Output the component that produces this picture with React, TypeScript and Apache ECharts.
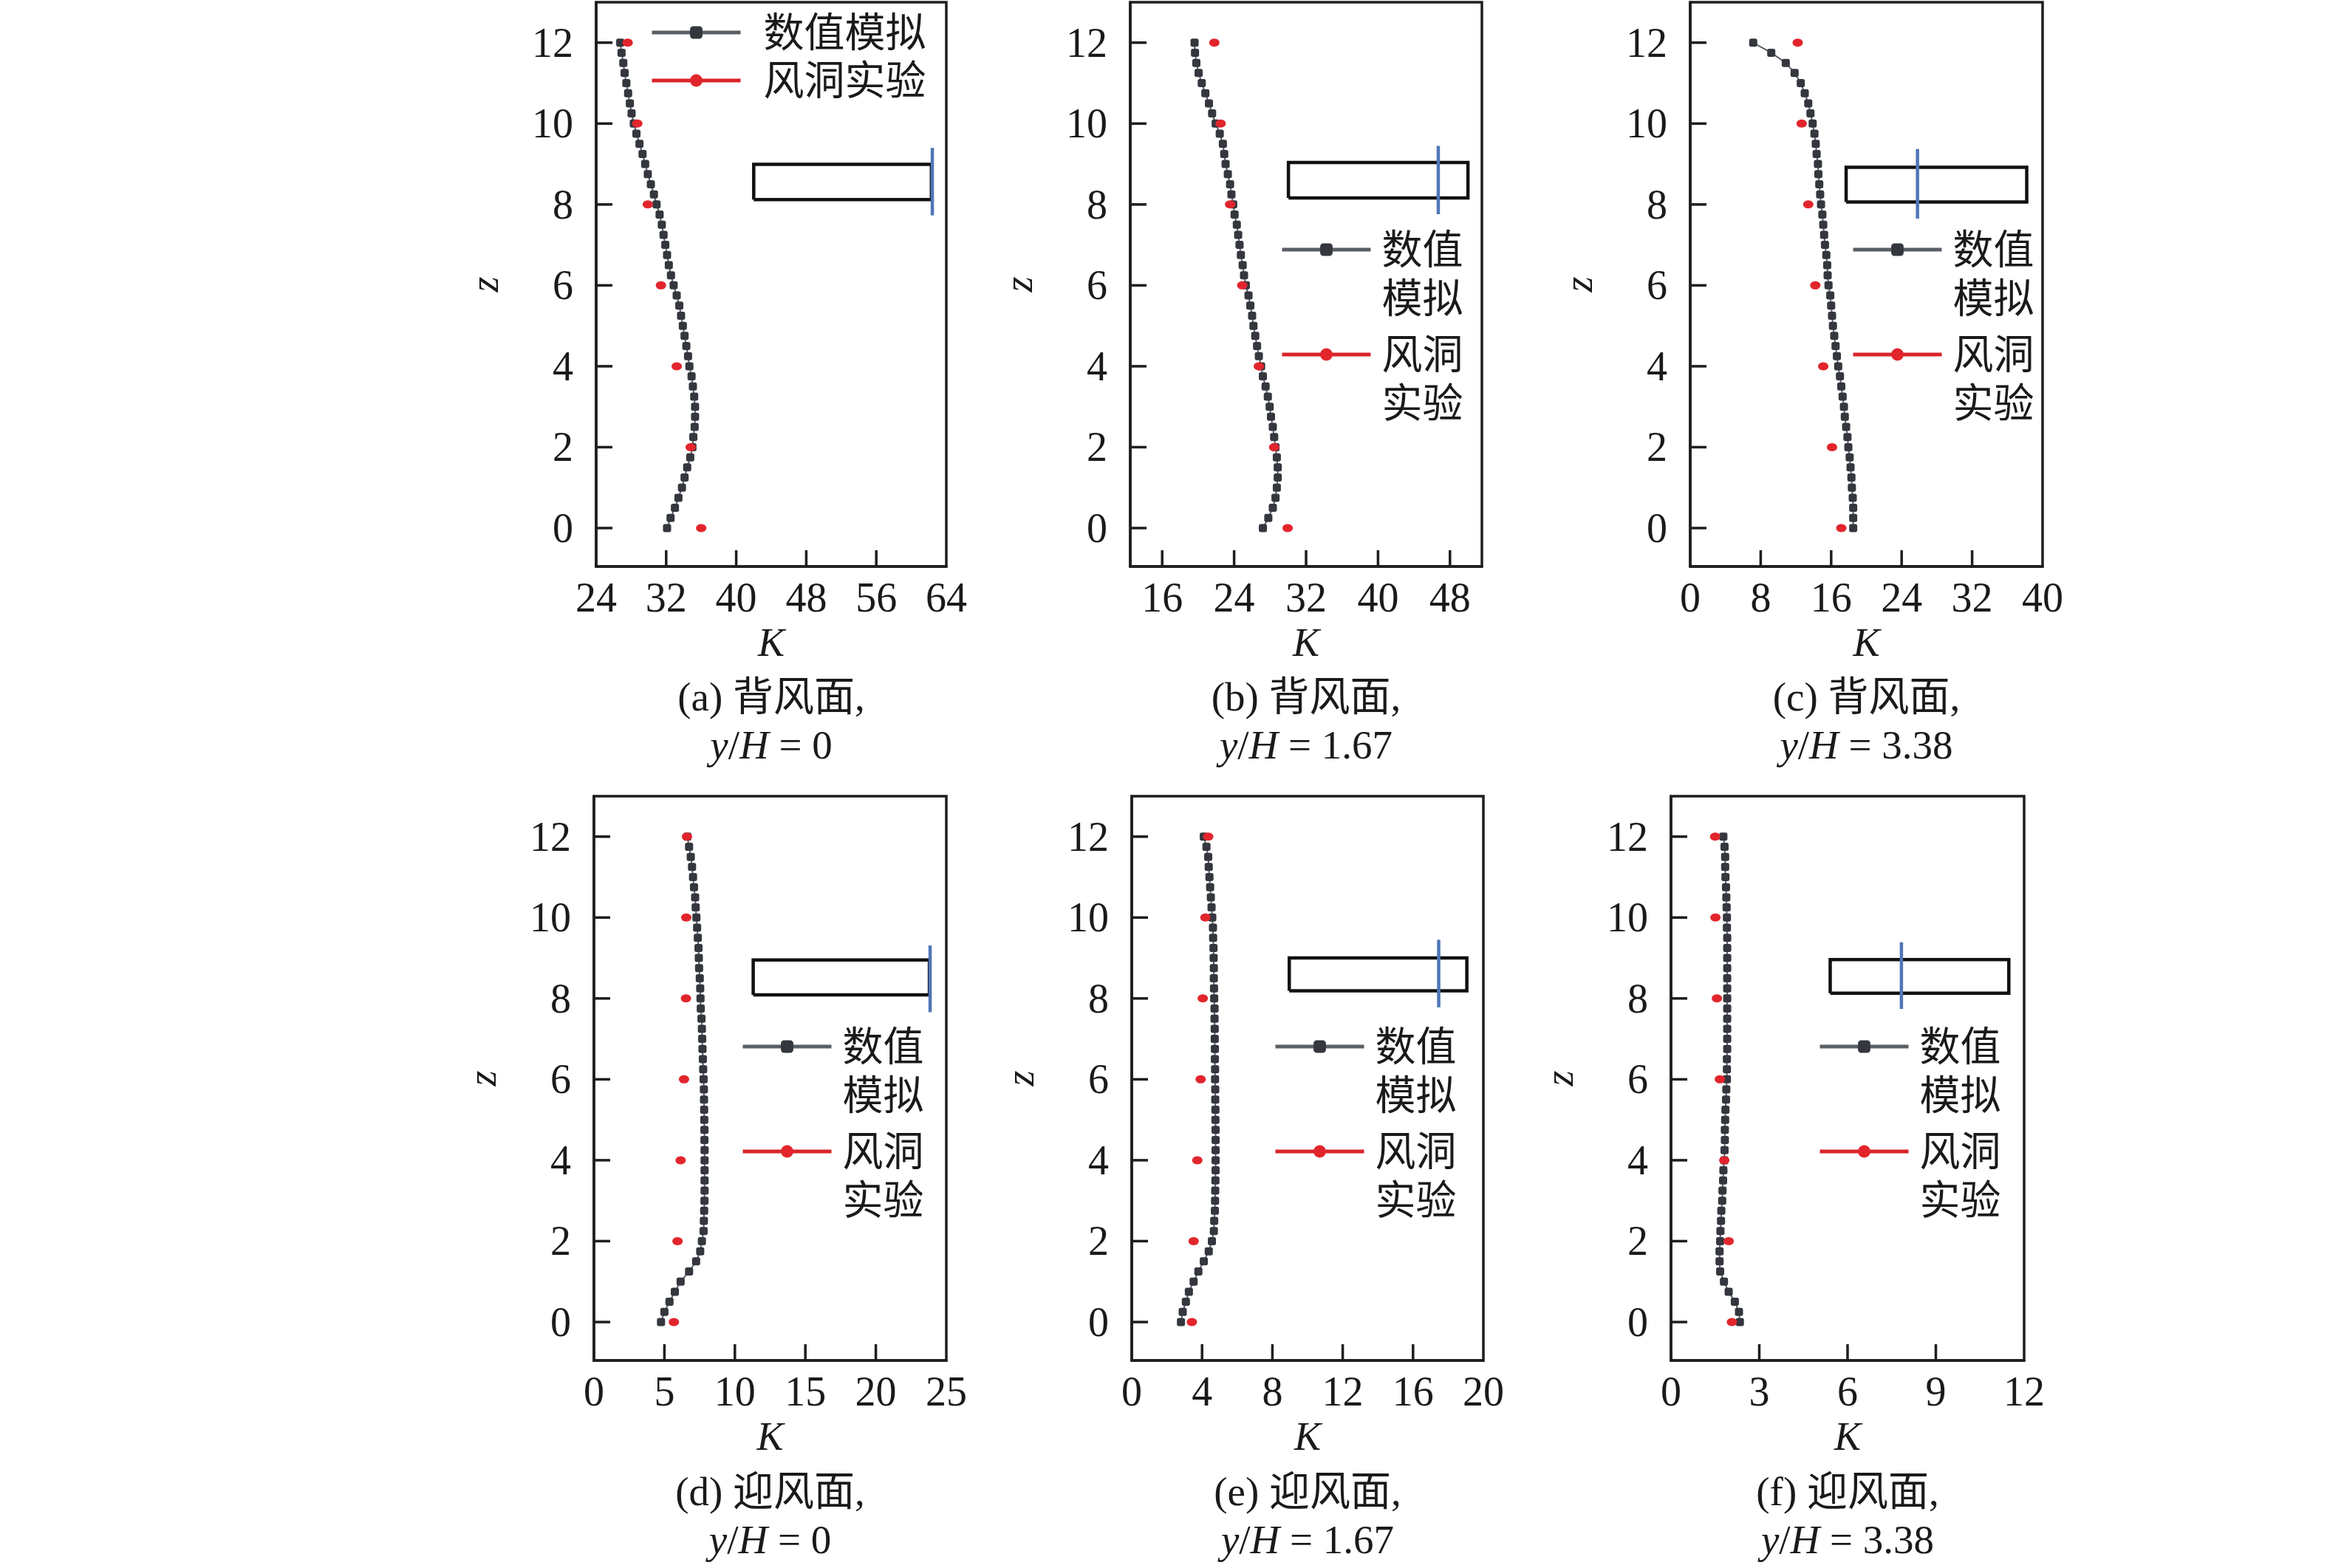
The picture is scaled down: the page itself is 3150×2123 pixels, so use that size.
import React, { useEffect, useRef } from "react";
import * as echarts from "echarts";

// ---------- data ----------
const Z_NUM = [
  0, 0.25, 0.5, 0.75, 1, 1.25, 1.5, 1.75, 2, 2.25, 2.5, 2.75, 3, 3.25, 3.5, 3.75,
  4, 4.25, 4.5, 4.75, 5, 5.25, 5.5, 5.75, 6, 6.25, 6.5, 6.75, 7, 7.25, 7.5, 7.75,
  8, 8.25, 8.5, 8.75, 9, 9.25, 9.5, 9.75, 10, 10.25, 10.5, 10.75, 11, 11.25, 11.5, 11.75, 12,
];
const Z_EXP = [0, 2, 4, 6, 8, 10, 12];

const K_NUM_A = [
  32.1, 32.5, 33.0, 33.4, 33.8, 34.1, 34.4, 34.75,
  35.0, 35.1, 35.25, 35.3, 35.3, 35.2, 35.05, 34.9,
  34.65, 34.5, 34.3, 34.1, 33.9, 33.7, 33.5, 33.2,
  32.85, 32.55, 32.3, 32.1, 31.9, 31.7, 31.5, 31.25,
  30.9, 30.6, 30.25, 29.9, 29.6, 29.3, 28.95, 28.6,
  28.3, 28.05, 27.85, 27.65, 27.45, 27.25, 27.1, 26.9,
  26.75,
];
const K_EXP_A = [36.0, 34.8, 33.2, 31.4, 29.9, 28.7, 27.6];

const K_NUM_B = [
  27.2, 27.8, 28.3, 28.6, 28.75, 28.85, 28.85, 28.75,
  28.6, 28.45, 28.3, 28.1, 27.95, 27.75, 27.5, 27.2,
  27.0, 26.75, 26.55, 26.35, 26.15, 26.0, 25.8, 25.6,
  25.3, 25.1, 24.95, 24.75, 24.6, 24.45, 24.3, 24.05,
  23.9, 23.7, 23.55, 23.3, 23.05, 22.9, 22.75, 22.4,
  21.95, 21.55, 21.2, 20.8, 20.4, 20.05, 19.8, 19.65,
  19.6,
];
const K_EXP_B = [29.95, 28.45, 26.75, 24.9, 23.55, 22.5, 21.8];

const K_NUM_C = [
  18.5, 18.5, 18.5, 18.45, 18.35, 18.3, 18.2, 18.1,
  17.95, 17.85, 17.7, 17.55, 17.45, 17.3, 17.15, 17.0,
  16.8, 16.65, 16.5, 16.35, 16.2, 16.1, 16.0, 15.9,
  15.7, 15.6, 15.55, 15.45, 15.3, 15.2, 15.1, 15.0,
  14.85, 14.75, 14.65, 14.55, 14.5, 14.35, 14.25, 14.1,
  13.9, 13.65, 13.4, 13.0, 12.55, 11.85, 10.85, 9.2,
  7.15,
];
const K_EXP_C = [17.15, 16.1, 15.1, 14.2, 13.4, 12.65, 12.2];

const K_NUM_D = [
  4.76, 5.0, 5.36, 5.74, 6.15, 6.75, 7.25, 7.54,
  7.66, 7.78, 7.8, 7.82, 7.84, 7.85, 7.85, 7.85,
  7.85, 7.85, 7.84, 7.84, 7.83, 7.82, 7.81, 7.8,
  7.78, 7.75, 7.73, 7.7, 7.68, 7.66, 7.63, 7.58,
  7.56, 7.54, 7.51, 7.46, 7.44, 7.42, 7.37, 7.32,
  7.27, 7.22, 7.18, 7.1, 7.03, 6.96, 6.87, 6.75,
  6.63,
];
const K_EXP_D = [5.67, 5.93, 6.15, 6.39, 6.53, 6.55, 6.6];

const K_NUM_E = [
  2.8, 2.9, 3.08, 3.25, 3.52, 3.79, 4.1, 4.38,
  4.56, 4.67, 4.69, 4.73, 4.74, 4.75, 4.76, 4.77,
  4.77, 4.77, 4.77, 4.77, 4.76, 4.76, 4.75, 4.75,
  4.74, 4.74, 4.73, 4.73, 4.72, 4.72, 4.71, 4.71,
  4.69, 4.68, 4.67, 4.67, 4.66, 4.65, 4.63, 4.62,
  4.58, 4.54, 4.5, 4.46, 4.42, 4.38, 4.35, 4.25,
  4.1,
];
const K_EXP_E = [3.42, 3.52, 3.73, 3.92, 4.04, 4.19, 4.35];

const K_NUM_F = [
  2.34, 2.31, 2.17, 1.96, 1.8, 1.67, 1.65, 1.65,
  1.67, 1.68, 1.7, 1.71, 1.74, 1.75, 1.77, 1.78,
  1.81, 1.82, 1.83, 1.83, 1.84, 1.85, 1.87, 1.88,
  1.9, 1.9, 1.9, 1.91, 1.91, 1.91, 1.91, 1.91,
  1.91, 1.91, 1.91, 1.91, 1.91, 1.91, 1.91, 1.9,
  1.9, 1.89, 1.88, 1.87, 1.85, 1.84, 1.84, 1.82,
  1.78,
];
const K_EXP_F = [2.07, 1.96, 1.81, 1.66, 1.56, 1.51, 1.5];

// axes
const X_MIN = [24, 12.45, 0, 0, 0, 0];
const X_MAX = [64, 51.55, 40, 25, 20, 12];
const X_TICKS_A = [24, 32, 40, 48, 56, 64];
const X_TICKS_B = [16, 24, 32, 40, 48];
const X_TICKS_C = [0, 8, 16, 24, 32, 40];
const X_TICKS_D = [0, 5, 10, 15, 20, 25];
const X_TICKS_E = [0, 4, 8, 12, 16, 20];
const X_TICKS_F = [0, 3, 6, 9, 12];
const Y_MIN = -0.95;
const Y_MAX = 13;
const Y_TICKS = [0, 2, 4, 6, 8, 10, 12];

// building inset (data coordinates)
const INSET_K0 = [42.0, 30.04, 17.7, 11.3, 8.96, 5.41];
const INSET_K1 = [62.3, 50.0, 38.2, 23.8, 19.06, 11.48];
const INSET_Z0 = [8.12, 8.16, 8.06, 8.09, 8.19, 8.13];
const INSET_Z1 = [8.99, 9.04, 8.92, 8.95, 9.0, 8.96];
const BLUE_K = [62.4, 46.7, 25.8, 23.85, 17.46, 7.83];
const BLUE_Z0 = [7.73, 7.76, 7.65, 7.66, 7.78, 7.74];
const BLUE_Z1 = [9.4, 9.45, 9.37, 9.31, 9.45, 9.39];

// texts
const SERIES_NAMES = ["数值模拟", "风洞实验"];
const CAPTION_TAGS = ["(a) 背风面,", "(b) 背风面,", "(c) 背风面,", "(d) 迎风面,", "(e) 迎风面,", "(f) 迎风面,"];
const CAPTION_YH = ["0", "1.67", "3.38", "0", "1.67", "3.38"];

const K_NUM = [K_NUM_A, K_NUM_B, K_NUM_C, K_NUM_D, K_NUM_E, K_NUM_F];
const K_EXP = [K_EXP_A, K_EXP_B, K_EXP_C, K_EXP_D, K_EXP_E, K_EXP_F];
const X_TICKS = [X_TICKS_A, X_TICKS_B, X_TICKS_C, X_TICKS_D, X_TICKS_E, X_TICKS_F];

// ---------- layout (pixels) ----------
const GRID_LEFT = [807, 1530, 2288, 804, 1532, 2262];
const GRID_WIDTH = [474, 476, 477, 477, 476, 478];
const GRID_TOP = [3, 3, 3, 1078, 1078, 1078];
const GRID_HEIGHT = 764;
const LEGEND_LEFT = [880, 1733, 2506, 1003, 1724, 2461];
const LEGEND_ICON_Y = [44, 338, 338, 1417, 1417, 1417];
const CAPTION_TOP = [911, 911, 911, 1987, 1987, 1987];
const TICK_LEN = 22;

const FONT = "'Liberation Serif', 'Times New Roman', 'Noto Sans CJK SC', serif";
const TEXT = "#1a1a1a";
const AXIS = "#1e1e1e";
const GRAY = "#34373e";
const GRAY_LINE = "#5a5e65";
const RED = "#e2252c";
const BLUE = "#4f76b8";

function buildOption() {
  const grid: any[] = [];
  const xAxis: any[] = [];
  const yAxis: any[] = [];
  const series: any[] = [];
  const legend: any[] = [];
  const title: any[] = [];

  for (let i = 0; i < 6; i++) {
    grid.push({
      left: GRID_LEFT[i],
      top: GRID_TOP[i],
      width: GRID_WIDTH[i],
      height: GRID_HEIGHT,
      show: true,
      borderColor: AXIS,
      borderWidth: 3.5,
      backgroundColor: "transparent",
      containLabel: false,
      outerBoundsMode: "none",
    });
    const xmin = X_MIN[i];
    const xmax = X_MAX[i];
    xAxis.push({
      gridIndex: i,
      type: "value",
      position: "bottom",
      min: xmin,
      max: xmax,
      name: "K",
      nameLocation: "middle",
      nameGap: 76,
      nameTextStyle: { fontFamily: FONT, fontStyle: "italic", fontSize: 54, color: TEXT, lineHeight: 54 },
      axisLine: { show: true, onZero: false, lineStyle: { color: AXIS, width: 3.5 } },
      axisTick: { show: false },
      axisLabel: {
        show: true,
        margin: 14,
        fontFamily: FONT,
        fontSize: 56,
        color: TEXT,
        lineHeight: 56,
        customValues: X_TICKS[i],
      },
      splitLine: { show: false },
    });
    yAxis.push({
      gridIndex: i,
      type: "value",
      position: "left",
      min: Y_MIN,
      max: Y_MAX,
      name: "z",
      nameLocation: "middle",
      nameRotate: 90,
      nameGap: 124,
      nameTextStyle: { fontFamily: FONT, fontStyle: "italic", fontSize: 54, color: TEXT, lineHeight: 54 },
      axisLine: { show: true, onZero: false, lineStyle: { color: AXIS, width: 3.5 } },
      axisTick: { show: false },
      axisLabel: {
        show: true,
        margin: 31,
        fontFamily: FONT,
        fontSize: 56,
        color: TEXT,
        lineHeight: 56,
        customValues: Y_TICKS,
      },
      splitLine: { show: false },
    });

    // inward tick marks, placed through the axes' own scales
    series.push({
      type: "custom",
      xAxisIndex: i,
      yAxisIndex: i,
      silent: true,
      z: 6,
      data: X_TICKS[i].filter((v) => v > xmin && v < xmax).map((v) => [v, Y_MIN]),
      renderItem: (_p: any, api: any) => {
        const pt = api.coord([api.value(0), api.value(1)]);
        return {
          type: "line",
          shape: { x1: pt[0], y1: pt[1], x2: pt[0], y2: pt[1] - TICK_LEN },
          style: { stroke: AXIS, lineWidth: 3.5 },
        };
      },
    });
    series.push({
      type: "custom",
      xAxisIndex: i,
      yAxisIndex: i,
      silent: true,
      z: 6,
      data: Y_TICKS.map((v) => [xmin, v]),
      renderItem: (_p: any, api: any) => {
        const pt = api.coord([api.value(0), api.value(1)]);
        return {
          type: "line",
          shape: { x1: pt[0], y1: pt[1], x2: pt[0] + TICK_LEN, y2: pt[1] },
          style: { stroke: AXIS, lineWidth: 3.5 },
        };
      },
    });

    // building inset
    series.push({
      type: "line",
      xAxisIndex: i,
      yAxisIndex: i,
      silent: true,
      symbol: "none",
      z: 2,
      lineStyle: { color: "#111111", width: 4.5, join: "miter" },
      data: [
        [INSET_K0[i], INSET_Z0[i]],
        [INSET_K1[i], INSET_Z0[i]],
        [INSET_K1[i], INSET_Z1[i]],
        [INSET_K0[i], INSET_Z1[i]],
        [INSET_K0[i], INSET_Z0[i]],
      ],
    });
    series.push({
      type: "line",
      xAxisIndex: i,
      yAxisIndex: i,
      silent: true,
      symbol: "none",
      z: 3,
      lineStyle: { color: BLUE, width: 4.5 },
      data: [
        [BLUE_K[i], BLUE_Z0[i]],
        [BLUE_K[i], BLUE_Z1[i]],
      ],
    });
    // numerical simulation
    series.push({
      name: SERIES_NAMES[0],
      type: "line",
      xAxisIndex: i,
      yAxisIndex: i,
      silent: true,
      z: 4,
      symbol: "roundRect",
      symbolSize: [11, 11],
      itemStyle: { color: GRAY },
      lineStyle: { color: GRAY_LINE, width: 2 },
      data: Z_NUM.map((z, j) => [K_NUM[i][j], z]),
    });
    // wind tunnel experiment
    series.push({
      name: SERIES_NAMES[1],
      type: "line",
      xAxisIndex: i,
      yAxisIndex: i,
      silent: true,
      z: 5,
      symbol: "circle",
      symbolSize: [14, 11],
      itemStyle: { color: RED },
      lineStyle: { color: "#d9242a", width: 0 },
      data: Z_EXP.map((z, j) => [K_EXP[i][j], z]),
    });

    const single = i === 0;
    legend.push({
      orient: "vertical",
      left: LEGEND_LEFT[i],
      top: single ? LEGEND_ICON_Y[i] - 32 : LEGEND_ICON_Y[i] - 99,
      padding: 0,
      itemWidth: 120,
      itemHeight: 21,
      itemGap: single ? 1 : -56,
      selectedMode: false,
      lineStyle: { width: 5, opacity: 1 },
      formatter: single ? undefined : (name: string) => "\n" + name.slice(0, 2) + "\n" + name.slice(2),
      textStyle: single
        ? { fontFamily: FONT, fontSize: 55, lineHeight: 64, color: TEXT, padding: [0, 0, 0, 26] }
        : { fontFamily: FONT, fontSize: 55, lineHeight: 66, color: TEXT, padding: [0, 0, 0, 10] },
      data: SERIES_NAMES,
    });

    title.push({
      text: CAPTION_TAGS[i] + "\n{i|y}/{i|H} = " + CAPTION_YH[i],
      left: GRID_LEFT[i] + GRID_WIDTH[i] / 2,
      top: CAPTION_TOP[i],
      textAlign: "center",
      textVerticalAlign: "top",
      padding: 0,
      textStyle: {
        fontFamily: FONT,
        fontSize: 55,
        fontWeight: "normal",
        color: TEXT,
        lineHeight: 65,
        rich: {
          i: { fontFamily: FONT, fontStyle: "italic", fontSize: 55, color: TEXT, lineHeight: 65 },
        },
      },
    });
  }

  return {
    animation: false,
    backgroundColor: "#ffffff",
    title,
    legend,
    grid,
    xAxis,
    yAxis,
    series,
  };
}

export default function App() {
  const ref = useRef<HTMLDivElement>(null);
  useEffect(() => {
    if (!ref.current) return;
    const chart = echarts.init(ref.current, null, { renderer: "svg", width: 3150, height: 2123 });
    chart.setOption(buildOption() as any);
    return () => chart.dispose();
  }, []);
  return (
    <div
      ref={ref}
      style={{ position: "absolute", left: 0, top: 0, width: "3150px", height: "2123px", background: "#fff" }}
    />
  );
}
